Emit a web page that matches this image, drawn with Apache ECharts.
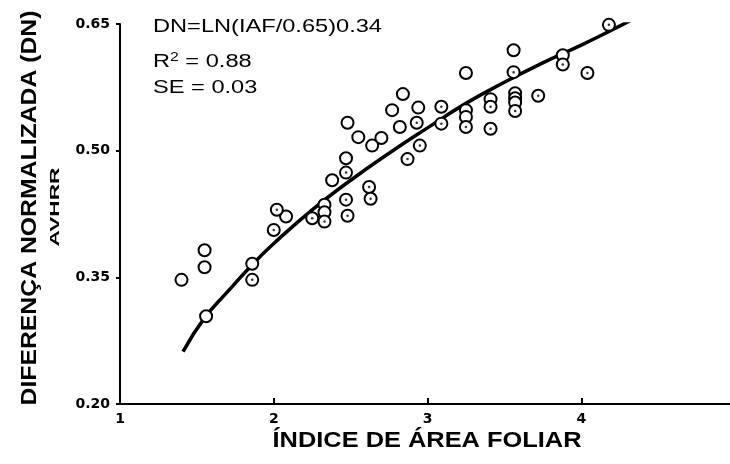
<!DOCTYPE html>
<html>
<head>
<meta charset="utf-8">
<script src="https://cdn.jsdelivr.net/npm/echarts@6/dist/echarts.min.js"></script>
<style>
  html, body { margin: 0; padding: 0; background: #fff; }
  #chart { width: 730px; height: 464px; }
</style>
</head>
<body>
<div id="chart"></div>
<script>
// Leaf area index (IAF) vs AVHRR normalized difference (DN)
// Plain circles
const openIAF = [1.40, 1.55, 1.55, 1.56, 1.86, 2.08, 2.33, 2.33, 2.38, 2.47, 2.48, 2.55, 2.64, 2.70,
                 2.77, 2.84, 2.82, 2.94, 3.25, 3.25, 3.25, 3.56, 3.57, 3.57, 3.57, 3.88, 3.41];
const openDN  = [0.347, 0.382, 0.362, 0.304, 0.366, 0.422, 0.436, 0.427, 0.465, 0.491, 0.533, 0.516, 0.506, 0.515,
                 0.548, 0.567, 0.528, 0.551, 0.592, 0.548, 0.540, 0.619, 0.568, 0.562, 0.557, 0.613, 0.561];
// Circles with a centre dot
const dottedIAF = [1.86, 2.00, 2.02, 2.25, 2.33, 2.47, 2.47, 2.48, 2.62, 2.63, 2.87, 2.95, 2.93, 3.09,
                   3.09, 3.25, 3.41, 3.41, 3.56, 3.57, 3.72, 3.88, 4.04, 4.18];
const dottedDN  = [0.347, 0.406, 0.430, 0.420, 0.416, 0.474, 0.442, 0.423, 0.457, 0.443, 0.490, 0.506, 0.533, 0.552,
                   0.532, 0.528, 0.552, 0.526, 0.593, 0.547, 0.565, 0.602, 0.592, 0.649];
// Fitted curve
const curveIAF = [1.41, 1.55, 1.70, 1.86, 2.00, 2.25, 2.50, 2.75, 3.00, 3.25, 3.50, 3.75, 4.00, 4.20, 4.34];
const curveDN  = [0.262, 0.302, 0.333, 0.365, 0.390, 0.430, 0.465, 0.497, 0.527, 0.556, 0.581, 0.604, 0.625, 0.643, 0.656];
// Axis ticks
const xTicks = ['1', '2', '3', '4', '5'];
const yTicks = ['0.20', '0.35', '0.50', '0.65'];

const pairs = (xs, ys) => xs.map((x, i) => [x, ys[i]]);
// lower circles drawn last so they sit on top inside stacks
const byDnDesc = (a, b) => b[1] - a[1];
const openData = pairs(openIAF, openDN).sort(byDnDesc);
const dottedData = pairs(dottedIAF, dottedDN).sort(byDnDesc);
const curveData = pairs(curveIAF, curveDN);

const measureCtx = document.createElement('canvas').getContext('2d');
function fitScale(text, font, target) {
  measureCtx.font = font;
  return target / measureCtx.measureText(text).width;
}

const titleFont = 'bold 22px "Liberation Sans"';
const yTitle = 'DIFERENÇA NORMALIZADA (DN)';
const xTitle = 'ÍNDICE DE ÁREA FOLIAR';
const subTitle = 'AVHRR';
const subFont = 'bold 13px "Liberation Sans"';
const eqFont = '18px "Liberation Sans"';
const eqText = 'DN=LN(IAF/0.65)0.34';
const eqScale = fitScale(eqText, eqFont, 229);

function txt(text, font, x, y, opts) {
  return Object.assign({
    type: 'text', x: x, y: y,
    style: {
      text: text, font: font, fill: '#000',
      textAlign: 'left', textVerticalAlign: 'middle',
      align: 'left', verticalAlign: 'middle'
    }
  }, opts || {});
}

const chart = echarts.init(document.getElementById('chart'), null, { renderer: 'canvas' });
chart.setOption({
  animation: false,
  backgroundColor: '#fff',
  grid: { left: 120, top: 24, width: 615, height: 380, containLabel: false, outerBoundsMode: 'none' },
  xAxis: {
    type: 'value', min: 1, max: 5, interval: 1,
    axisLine: { lineStyle: { color: '#000', width: 2 } },
    axisTick: { inside: true, length: 6, lineStyle: { color: '#000', width: 2 } },
    axisLabel: {
      color: '#000', fontFamily: 'DejaVu Sans', fontWeight: 'bold', fontSize: 14, margin: 8,
      formatter: v => xTicks[Math.round(v) - 1]
    },
    splitLine: { show: false }
  },
  yAxis: {
    type: 'value', min: 0.2, max: 0.65, interval: 0.15,
    axisLine: { lineStyle: { color: '#000', width: 2 } },
    axisTick: { length: 4, lineStyle: { color: '#000', width: 2 } },
    axisLabel: {
      color: '#000', fontFamily: 'DejaVu Sans', fontWeight: 'bold', fontSize: 14, margin: 10,
      formatter: v => yTicks[Math.round((v - 0.2) / 0.15)]
    },
    splitLine: { show: false }
  },
  series: [
    {
      type: 'line', data: curveData, smooth: true, symbol: 'none',
      lineStyle: { color: '#000', width: 3.5 }, z: 1
    },
    {
      type: 'scatter', data: openData, symbol: 'circle', symbolSize: 12,
      itemStyle: { color: '#fff', borderColor: '#000', borderWidth: 2, opacity: 1 }, z: 2
    },
    {
      type: 'scatter', data: dottedData, symbol: 'circle', symbolSize: 12,
      itemStyle: { color: '#fff', borderColor: '#000', borderWidth: 2, opacity: 1 }, z: 3
    },
    {
      type: 'scatter', data: dottedData, symbol: 'circle', symbolSize: 2.5,
      itemStyle: { color: '#000' }, z: 4
    }
  ],
  graphic: [
    txt(yTitle, titleFont, 30, 208, {
      rotation: Math.PI / 2, scaleX: fitScale(yTitle, titleFont, 395),
      style: { text: yTitle, font: titleFont, fill: '#000', textAlign: 'center', align: 'center',
               textVerticalAlign: 'middle', verticalAlign: 'middle' }
    }),
    txt(subTitle, subFont, 55, 207, {
      rotation: Math.PI / 2, scaleX: fitScale(subTitle, subFont, 79),
      style: { text: subTitle, font: subFont, fill: '#000', textAlign: 'center', align: 'center',
               textVerticalAlign: 'middle', verticalAlign: 'middle' }
    }),
    txt(xTitle, titleFont, 427, 441, {
      scaleX: fitScale(xTitle, titleFont, 309),
      style: { text: xTitle, font: titleFont, fill: '#000', textAlign: 'center', align: 'center',
               textVerticalAlign: 'middle', verticalAlign: 'middle' }
    }),
    txt(eqText, eqFont, 153, 27, { scaleX: eqScale }),
    {
      type: 'text', x: 153, y: 62, scaleX: eqScale,
      style: {
        text: 'R{sup|2} = 0.88', font: eqFont, fill: '#000',
        textAlign: 'left', align: 'left', textVerticalAlign: 'middle', verticalAlign: 'middle',
        rich: { sup: { fontSize: 12, fontFamily: 'Liberation Sans', verticalAlign: 'top', padding: [0, 0, 8, 0] } }
      }
    },
    txt('SE = 0.03', eqFont, 153, 88, { scaleX: eqScale })
  ]
});
</script>
</body>
</html>
